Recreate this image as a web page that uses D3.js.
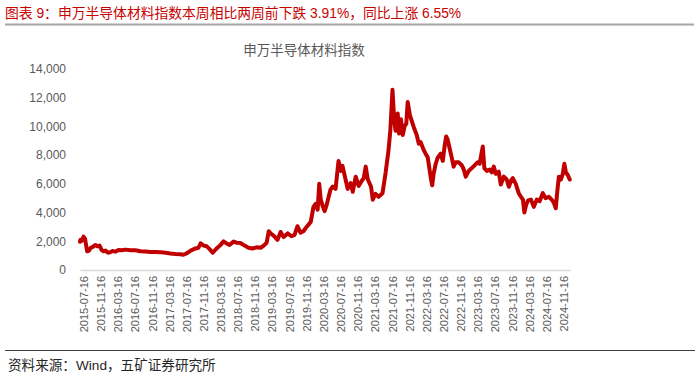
<!DOCTYPE html>
<html><head><meta charset="utf-8">
<script src="https://cdn.jsdelivr.net/npm/d3@7"></script>
<style>
html,body{margin:0;padding:0;background:#fff;}
svg{display:block;font-family:"Liberation Sans","Noto Sans CJK SC",sans-serif;}
</style></head>
<body>
<svg id="c" width="700" height="374"></svg>
<script>
const titleText = "图表 9：申万半导体材料指数本周相比两周前下跌 3.91%，同比上涨 6.55%";
const chartTitle = "申万半导体材料指数";
const sourceText = "资料来源：Wind，五矿证券研究所";
const yTicks = [0, 2000, 4000, 6000, 8000, 10000, 12000, 14000];
const xTickLabels = ["2015-07-16","2015-11-16","2016-03-16","2016-07-16","2016-11-16","2017-03-16","2017-07-16","2017-11-16","2018-03-16","2018-07-16","2018-11-16","2019-03-16","2019-07-16","2019-11-16","2020-03-16","2020-07-16","2020-11-16","2021-03-16","2021-07-16","2021-11-16","2022-03-16","2022-07-16","2022-11-16","2023-03-16","2023-07-16","2023-11-16","2024-03-16","2024-07-16","2024-11-16"];
const dates = ["2015-06-22","2015-06-25","2015-07-05","2015-07-17","2015-07-27","2015-08-12","2015-08-25","2015-09-05","2015-09-19","2015-10-10","2015-10-24","2015-11-08","2015-11-22","2015-12-06","2015-12-20","2016-01-07","2016-01-25","2016-02-08","2016-03-01","2016-03-21","2016-04-12","2016-05-10","2016-06-14","2016-07-19","2016-08-25","2016-09-30","2016-11-03","2016-12-10","2017-01-16","2017-02-20","2017-03-25","2017-04-30","2017-06-04","2017-06-25","2017-07-16","2017-08-16","2017-09-12","2017-10-10","2017-10-25","2017-11-16","2017-12-07","2017-12-28","2018-01-19","2018-02-16","2018-03-16","2018-04-06","2018-04-27","2018-05-18","2018-06-16","2018-07-07","2018-08-04","2018-09-02","2018-09-30","2018-10-28","2018-11-27","2018-12-25","2019-01-16","2019-02-06","2019-02-21","2019-03-06","2019-03-27","2019-04-24","2019-05-16","2019-06-06","2019-07-05","2019-08-01","2019-08-23","2019-09-13","2019-10-04","2019-10-25","2019-11-16","2019-12-16","2020-01-04","2020-01-19","2020-02-03","2020-02-14","2020-02-25","2020-03-11","2020-03-23","2020-04-06","2020-04-21","2020-05-04","2020-05-19","2020-06-09","2020-06-30","2020-07-16","2020-07-28","2020-08-19","2020-09-03","2020-09-24","2020-10-09","2020-10-30","2020-11-20","2020-12-11","2020-12-26","2021-01-09","2021-01-24","2021-02-16","2021-02-28","2021-03-20","2021-04-10","2021-05-08","2021-05-30","2021-06-20","2021-07-03","2021-07-18","2021-07-30","2021-08-09","2021-08-24","2021-09-03","2021-09-16","2021-09-29","2021-10-12","2021-10-24","2021-11-03","2021-11-18","2021-12-01","2021-12-16","2022-01-06","2022-01-21","2022-02-03","2022-02-25","2022-03-10","2022-03-25","2022-04-04","2022-04-16","2022-04-26","2022-05-06","2022-05-21","2022-06-03","2022-06-25","2022-07-10","2022-07-24","2022-08-03","2022-08-13","2022-08-27","2022-09-10","2022-09-25","2022-10-09","2022-10-31","2022-11-21","2022-12-06","2022-12-20","2023-01-10","2023-02-01","2023-02-22","2023-03-14","2023-03-29","2023-04-12","2023-04-20","2023-05-01","2023-05-19","2023-06-09","2023-06-23","2023-07-07","2023-07-21","2023-08-11","2023-08-26","2023-09-16","2023-10-07","2023-10-22","2023-11-05","2023-11-19","2023-12-10","2023-12-31","2024-01-16","2024-01-30","2024-02-09","2024-02-21","2024-03-06","2024-03-27","2024-04-16","2024-05-07","2024-05-28","2024-06-19","2024-07-09","2024-07-31","2024-08-21","2024-09-05","2024-09-19","2024-09-30","2024-10-11","2024-10-25","2024-11-08","2024-11-19","2024-11-30","2024-12-14","2024-12-27"];
const values = [1970,2100,2050,2320,2200,1300,1350,1530,1600,1740,1650,1700,1400,1300,1350,1200,1250,1320,1280,1400,1380,1420,1380,1370,1300,1290,1250,1260,1230,1200,1150,1120,1100,1060,1150,1350,1480,1550,1860,1700,1650,1450,1200,1500,1750,2000,1850,1750,1980,1900,1880,1700,1550,1500,1580,1550,1700,1900,2700,2550,2400,2100,2650,2300,2550,2350,2450,3050,2600,2700,3000,3350,4400,4600,4200,6000,4900,4400,4100,4500,5100,5600,5800,5650,7600,6900,7250,6300,5650,6050,5450,6500,5850,6200,6400,7200,6300,5800,4900,5300,5100,5350,6750,8350,9750,12550,10450,9700,10900,9500,10500,9400,10000,10200,11700,10800,10400,9950,9400,8800,8900,8350,8100,7850,7200,6400,5900,6700,7400,7800,8100,7600,8700,9300,9100,8500,7900,7200,7500,7500,7300,7000,6500,6900,7100,7300,7500,7400,8200,8600,7100,6900,7000,6800,7200,6700,6850,5950,6500,6300,5800,6200,6400,6000,5350,5100,4900,4000,4500,4850,4900,4400,4900,4800,5350,5000,5100,4900,4700,4300,5500,6500,6300,6700,7400,6800,6600,6300];

const parse = d3.timeParse("%Y-%m-%d");
const data = dates.map((d, i) => ({date: parse(d), value: values[i]}));

const svg = d3.select("#c");
const plot = {left: 80, right: 570, top: 69, bottom: 270};

// Header
svg.append("text").attr("x", 5).attr("y", 18)
  .attr("font-size", 13.8).attr("fill", "#c80000").text(titleText);
svg.append("line").attr("x1", 5).attr("x2", 694).attr("y1", 24.5).attr("y2", 24.5)
  .attr("stroke", "#a6a6a6").attr("stroke-width", 2);

svg.append("text").attr("x", 304).attr("y", 55).attr("text-anchor", "middle")
  .attr("font-size", 13.5).attr("fill", "#595959").text(chartTitle);

const x = d3.scaleTime()
  .domain([parse("2015-06-22"), parse("2024-12-29")])
  .range([plot.left, plot.right]);
const y = d3.scaleLinear().domain([0, 14000]).range([plot.bottom, plot.top]);

// Y axis
const yAxis = d3.axisLeft(y).tickValues(yTicks).tickSize(0).tickPadding(0)
  .tickFormat(d3.format(","));
const gy = svg.append("g").attr("transform", `translate(66,0)`).call(yAxis);
gy.select(".domain").remove();
gy.selectAll("text").attr("font-size", 12).attr("fill", "#595959")
  .attr("font-family", "Liberation Sans, sans-serif");

// X axis
const xAxis = d3.axisBottom(x).tickValues(xTickLabels.map(parse)).tickSize(0)
  .tickFormat(d3.timeFormat("%Y-%m-%d"));
const gx = svg.append("g").attr("transform", `translate(0,${plot.bottom})`).call(xAxis);
gx.select(".domain").attr("stroke", "#d9d9d9").attr("stroke-width", 1.5);
gx.selectAll("text")
  .attr("font-size", 11).attr("fill", "#595959")
  .attr("font-family", "Liberation Sans, sans-serif")
  .attr("text-anchor", "end")
  .attr("dy", "0.35em")
  .attr("transform", "translate(0,6) rotate(-90)")
  .attr("x", 0).attr("y", 0);

// Line
const line = d3.line().x(d => x(d.date)).y(d => y(d.value)).curve(d3.curveLinear);
svg.append("path").datum(data).attr("d", line)
  .attr("fill", "none").attr("stroke", "#c00000").attr("stroke-width", 4)
  .attr("stroke-linejoin", "round").attr("stroke-linecap", "round");

// Footer
svg.append("line").attr("x1", 5).attr("x2", 695).attr("y1", 350.5).attr("y2", 350.5)
  .attr("stroke", "#404040").attr("stroke-width", 1);
svg.append("text").attr("x", 8).attr("y", 370)
  .attr("font-size", 13.6).attr("fill", "#262626").text(sourceText);
</script>
</body></html>
